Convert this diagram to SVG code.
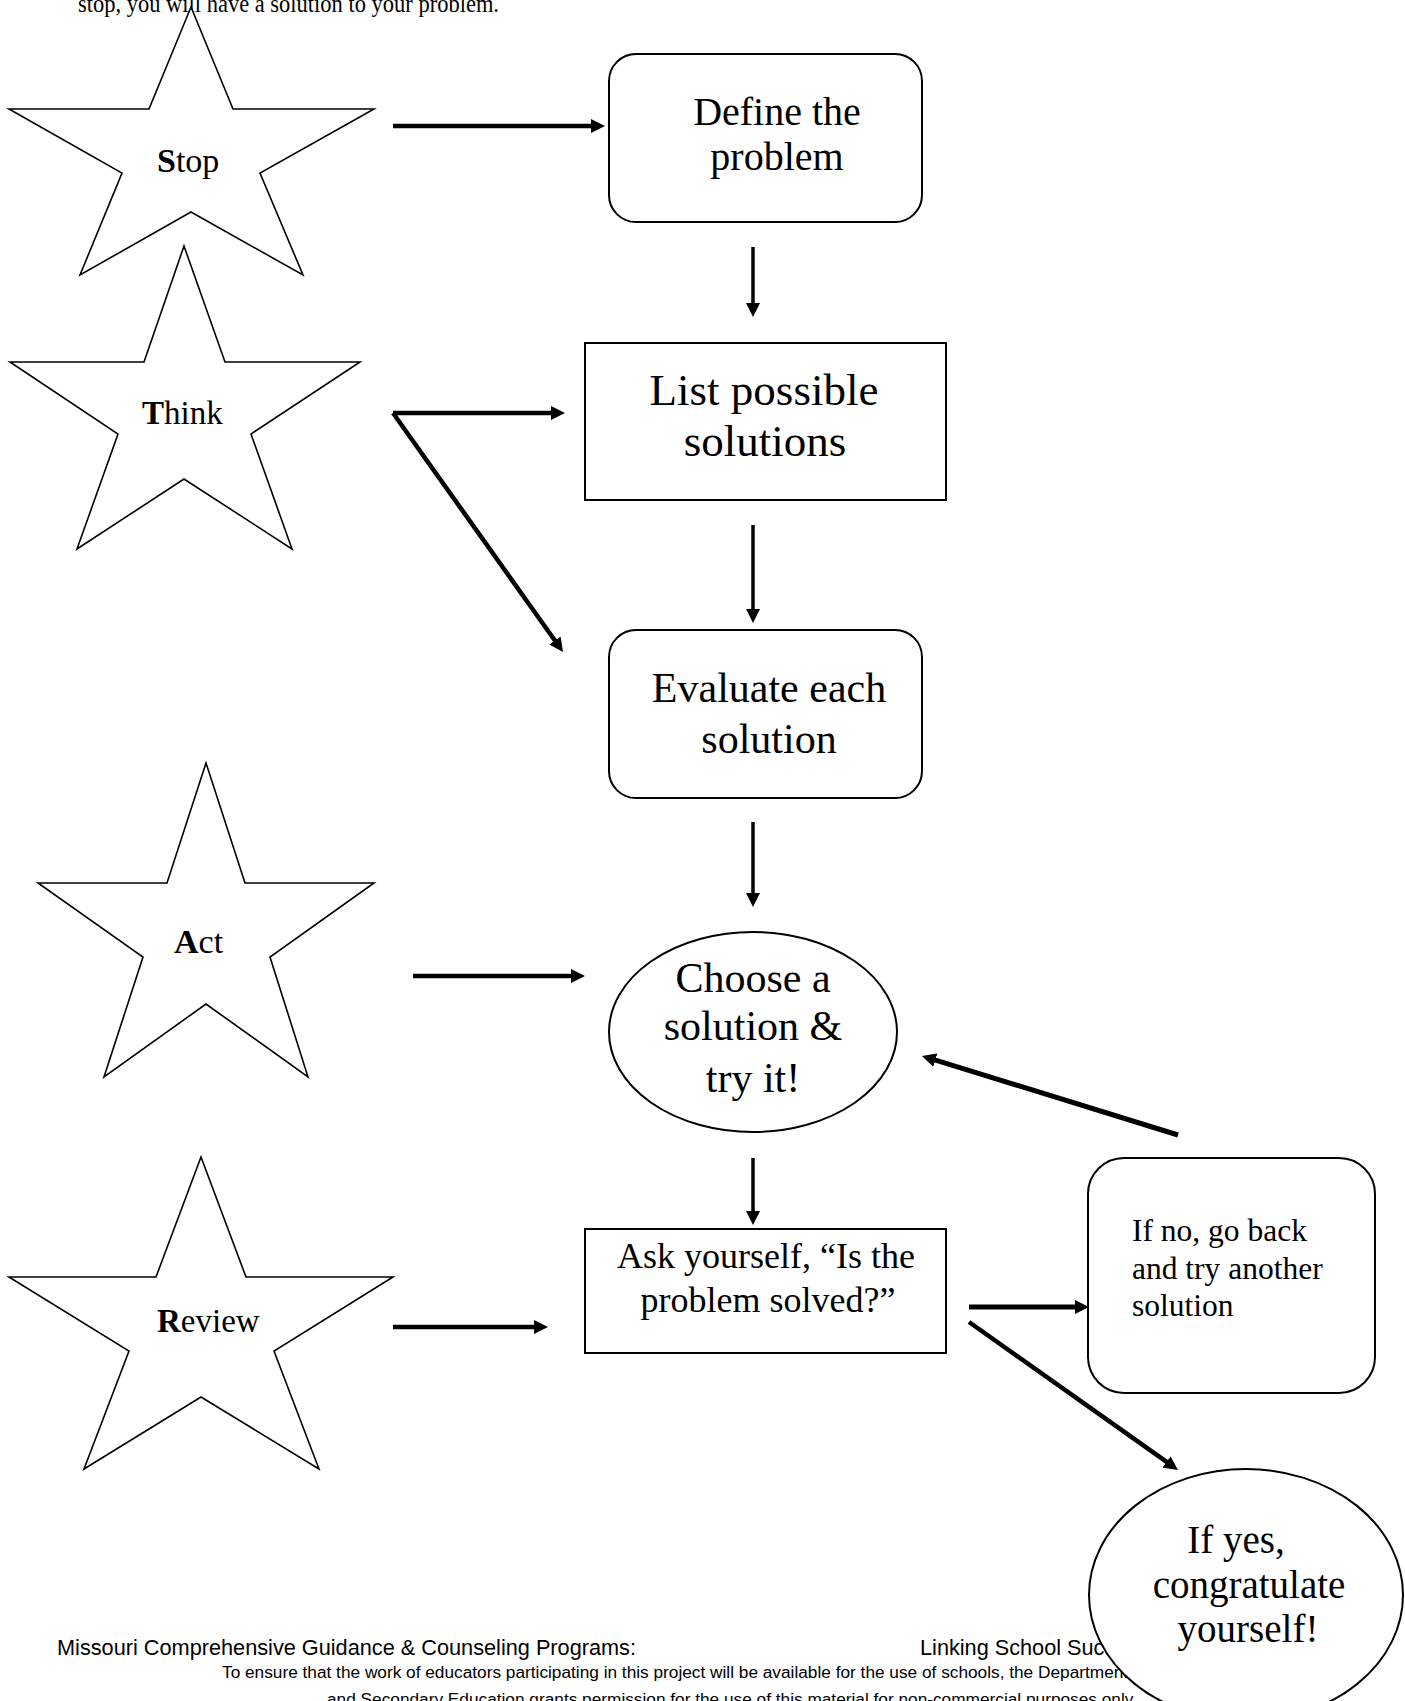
<svg xmlns="http://www.w3.org/2000/svg" width="1405" height="1701" viewBox="0 0 1405 1701">
<style>
.star{fill:#fff;stroke:#000;stroke-width:1.6;stroke-linejoin:miter}
.box{fill:#fff;stroke:#000;stroke-width:2}
.t{font-family:"Liberation Serif","Times New Roman",serif;fill:#000}
.c{text-anchor:middle}
.f{font-family:"Liberation Sans",Arial,sans-serif;fill:#000}
.ln{stroke:#000;fill:none;stroke-linecap:butt}
</style>
<defs>
<marker id="ah" markerUnits="userSpaceOnUse" markerWidth="14" markerHeight="14" refX="4" refY="7" orient="auto">
<path d="M0,0 L14,7 L0,14 z" fill="#000"/>
</marker>
</defs>
<rect width="1405" height="1701" fill="#fff"/>
<text class="t" x="78" y="12" font-size="25" textLength="421" lengthAdjust="spacingAndGlyphs">stop, you will have a solution to your problem.</text>

<g id="star-stop">
<polygon class="star" points="191,7 233,109 374,109 260,173 303,275 191,212 80,275 122,173 9,109 149,109"/>
<text class="t" x="157" y="172" font-size="34"><tspan font-weight="bold">S</tspan>top</text>
</g>
<g id="star-think">
<polygon class="star" points="184,246 225,362 360,362 251,434 292,549 184,479 77,549 118,434 10,362 144,362"/>
<text class="t" x="142" y="424" font-size="33"><tspan font-weight="bold">T</tspan>hink</text>
</g>
<g id="star-act">
<polygon class="star" points="206,763 245,883 374,883 270,957 308,1077 206,1004 104,1077 143,957 38,883 167,883"/>
<text class="t" x="174" y="953" font-size="34"><tspan font-weight="bold">A</tspan>ct</text>
</g>
<g id="star-review">
<polygon class="star" points="201,1157 246,1277 393,1277 274,1351 319,1469 201,1397 84,1469 129,1351 9,1277 156,1277"/>
<text class="t" x="157" y="1332" font-size="33"><tspan font-weight="bold">R</tspan>eview</text>
</g>

<g id="define">
<rect class="box" x="609" y="54" width="313" height="168" rx="27"/>
<text class="t c" x="777" y="125" font-size="40">Define the</text>
<text class="t c" x="777" y="170" font-size="40">problem</text>
</g>
<g id="list">
<rect class="box" x="585" y="343" width="361" height="157"/>
<text class="t c" x="764" y="405" font-size="45">List possible</text>
<text class="t c" x="765" y="456" font-size="45">solutions</text>
</g>
<g id="evaluate">
<rect class="box" x="609" y="630" width="313" height="168" rx="27"/>
<text class="t c" x="769" y="702" font-size="42">Evaluate each</text>
<text class="t c" x="769" y="753" font-size="42">solution</text>
</g>
<g id="choose">
<ellipse class="box" cx="753" cy="1032" rx="144" ry="100"/>
<text class="t c" x="753" y="992" font-size="42">Choose a</text>
<text class="t c" x="753" y="1040" font-size="42">solution &amp;</text>
<text class="t c" x="753" y="1092" font-size="42">try it!</text>
</g>
<g id="ask">
<rect class="box" x="585" y="1229" width="361" height="124"/>
<text class="t c" x="766" y="1268" font-size="36">Ask yourself, “Is the</text>
<text class="t c" x="768" y="1312" font-size="36">problem solved?”</text>
</g>
<g id="ifno">
<rect class="box" x="1088" y="1158" width="287" height="235" rx="36"/>
<text class="t" x="1132" y="1241" font-size="31.5">If no, go back</text>
<text class="t" x="1132" y="1279" font-size="31.5">and try another</text>
<text class="t" x="1132" y="1316" font-size="31.5">solution</text>
</g>

<g id="connectors">
<line class="ln" x1="393" y1="126" x2="595" y2="126" stroke-width="4.5" marker-end="url(#ah)"/>
<line class="ln" x1="753" y1="247" x2="753" y2="307" stroke-width="3.5" marker-end="url(#ah)"/>
<line class="ln" x1="393" y1="413" x2="555" y2="413" stroke-width="4.5" marker-end="url(#ah)"/>
<line class="ln" x1="393" y1="413" x2="557.2" y2="643.8" stroke-width="4.5" marker-end="url(#ah)"/>
<line class="ln" x1="753" y1="525" x2="753" y2="613" stroke-width="3.5" marker-end="url(#ah)"/>
<line class="ln" x1="753" y1="822" x2="753" y2="897" stroke-width="3.5" marker-end="url(#ah)"/>
<line class="ln" x1="413" y1="976" x2="575" y2="976" stroke-width="4.5" marker-end="url(#ah)"/>
<line class="ln" x1="1178" y1="1135" x2="931.5" y2="1058.9" stroke-width="5" marker-end="url(#ah)"/>
<line class="ln" x1="753" y1="1158" x2="753" y2="1215" stroke-width="3.5" marker-end="url(#ah)"/>
<line class="ln" x1="393" y1="1327" x2="538" y2="1327" stroke-width="4.5" marker-end="url(#ah)"/>
<line class="ln" x1="969" y1="1307" x2="1079" y2="1307" stroke-width="5" marker-end="url(#ah)"/>
<line class="ln" x1="969" y1="1322" x2="1169.8" y2="1464.2" stroke-width="4.5" marker-end="url(#ah)"/>
</g>

<g id="footer">
<text class="f" x="57" y="1655" font-size="21.7" textLength="579" lengthAdjust="spacingAndGlyphs">Missouri Comprehensive Guidance &amp; Counseling Programs:</text>
<text class="f" x="920" y="1655" font-size="21.7">Linking School Succ</text>
<text class="f" x="222" y="1678" font-size="17.25">To ensure that the work of educators participating in this project will be available for the use of schools, the Department</text>
<text class="f" x="327" y="1705" font-size="17.25">and Secondary Education grants permission for the use of this material for non-commercial purposes only.</text>
</g>

<g id="ifyes">
<ellipse class="box" cx="1246" cy="1595" rx="157" ry="126"/>
<text class="t c" x="1236" y="1553" font-size="39">If yes,</text>
<text class="t c" x="1249" y="1598" font-size="39">congratulate</text>
<text class="t c" x="1248" y="1642" font-size="39">yourself!</text>
</g>
</svg>
